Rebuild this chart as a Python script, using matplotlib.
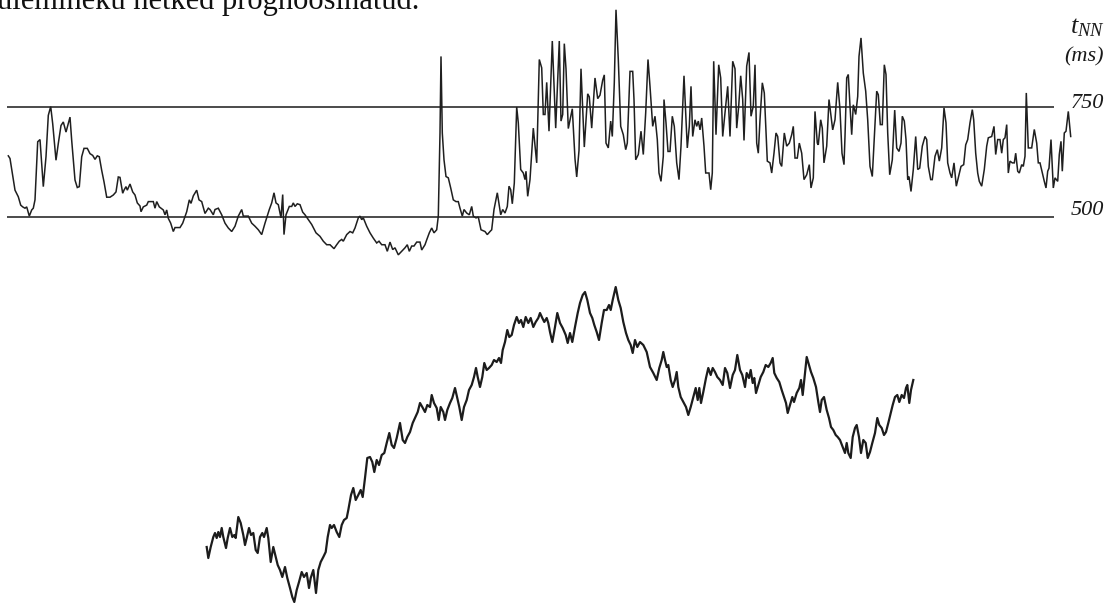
import numpy as np
import matplotlib
matplotlib.use("Agg")
import matplotlib.pyplot as plt

plt.rcParams['font.family'] = ['Liberation Serif', 'DejaVu Serif']
plt.rcParams['mathtext.fontset'] = 'custom'
plt.rcParams['mathtext.it'] = 'Liberation Serif:italic'
plt.rcParams['mathtext.rm'] = 'Liberation Serif'

# RR tachogram: beat time (arbitrary units) and NN interval (ms)
rr_t = [8.3, 10, 15, 18.3, 20.7, 22.7, 25, 26.7, 29.3, 31.7, 33.3, 35, 37.7, 40, 43.3, 46, 48.3, 50.7, 52.7, 56,
        58.3, 61, 63.3, 66, 70, 71.7, 75, 77.3, 79.3, 81.7, 84, 87.3, 90, 92.7, 95, 97.3, 99.3, 101.7, 104, 106.7,
        110, 113.3, 116, 118.3, 120, 122.7, 124, 126, 127.3, 130, 132.7, 135, 137.3, 140, 141, 143.3, 146.7, 148.3, 150.7, 153.3,
        155, 156.7, 159.3, 163.3, 165, 166.7, 168.3, 170.7, 173.3, 175, 180, 182.7, 185, 186.7, 189.3, 191, 193.3, 196.7, 199, 201.7,
        205, 208.3,
        210, 213.3, 215, 218.3, 221.7, 225, 228.3, 231.7, 235, 238.3, 241.7, 243.3, 248.3, 251.7, 255, 258.3, 261.7, 265, 269.3, 271.7,
        274, 276, 278.3, 281, 282.7, 284, 286, 289.3, 291.7, 293.3, 295, 297.3, 300, 302.7, 305, 308.3, 311.7, 316, 320, 323.3,
        326.7, 330, 334, 336.7, 339.3, 341.7, 343.3, 346.7, 350, 352.7, 355, 358.3, 360, 361.7, 363.3, 366.7, 370, 373.3, 376.7, 379,
        381.7, 385, 387.3, 390, 392.7, 395, 398.3, 401.7, 405, 407.3, 409.3, 411.7, 414, 416.7, 420, 421.7, 425,
        426.7, 429.3, 431.7, 434, 436.7, 438.3, 440, 441, 442.3, 444, 446, 448.3, 450.7, 453.3, 456, 458.3, 460, 462.3, 464, 466.7,
        469.3, 471.7, 473.3, 476, 478.3, 481, 485, 487.3, 490, 491.7, 494, 497.3, 500.7, 502.7, 505, 507.3, 509, 510.7, 512.3, 514.3,
        516.7, 518.3, 520.7, 523.3, 525, 526, 527.7, 530, 533.3, 536.7, 539.3, 541.7, 543.3, 545, 546.7, 549, 552.3, 555.7, 559.3, 561,
        562.7, 564.3, 566, 568.3, 572.3, 575, 576.7, 579, 581, 584.3, 587.7, 589.3, 591.7, 595, 597.7, 600, 602.7, 604.3, 606, 608.3,
        610.7, 612.3, 614.3, 616, 618.3, 620.7, 623.3, 625.7, 627.3, 630,
        632.7, 634, 635.7, 638.3, 641, 643.3, 645.7, 648, 650, 652.7, 655, 657.3, 659, 661, 663.3, 664, 666, 668, 670, 672.3,
        674.3, 676.7, 679, 681, 684, 687.3, 689.3, 691, 692.7, 695, 696.7, 698.3, 700, 701.7, 704, 705.7, 709, 710.7, 712.3, 713.7,
        716, 718.7, 720.7, 722.7, 725, 727.7, 730, 732.7, 735, 736.7, 738.7, 740.7, 742.7, 744, 746.7, 749, 751, 753.3, 755, 756.7,
        758.3, 760, 762.3, 764.3, 767.3, 770, 771.7, 774, 776, 777.7, 780, 781.7, 784.3, 786.7, 789.3, 791.7, 793.3, 795, 797.3, 799.3,
        801.7, 804, 806.7, 809.3, 811, 813.3, 815, 817.3, 818.3, 820.7, 822.3, 824, 826.7, 829, 831, 832.7, 835, 837.7, 840, 842, 844,
        845, 846.7, 848.3, 850, 851.7, 853.3, 855.7, 857.7, 859, 861, 863.3, 865.7, 867.7, 870, 872.3, 874.3, 876.7, 878.3, 880.3, 882.3,
        884.3, 886, 887.7, 889.7, 892.3, 894.7, 896.7, 899, 901, 902.3, 904.3, 906, 907.7, 909, 911, 913.3, 915.7, 917.7, 919.7, 922.3,
        925, 926.7, 928.3, 930.7, 932.3, 935, 937.3, 939.3, 941.7, 944, 946, 947.7, 950, 951.7, 954, 956.3, 958.3, 961, 963.7, 965.7,
        967.7, 970, 972.3, 973.7, 975.7, 977.7, 979.3, 981.7, 984.3, 986.7, 988.3, 991.7, 994, 995.7, 997.7, 1000, 1001.7, 1003.3, 1005, 1006.7,
        1008.3, 1010, 1012.3, 1014.3, 1015.7, 1017.7, 1019.3, 1021.7, 1023.3, 1025, 1026.3, 1028.3, 1031.7, 1034.3, 1036.7, 1038.3, 1040, 1042.3, 1044.3, 1046,
        1047.7, 1049, 1051, 1053.3, 1055, 1057.7, 1059.3, 1061, 1062.3, 1064.3, 1066, 1068.3, 1070.7]
rr_ms = [639, 633, 561, 546, 527, 523, 520, 523, 502, 516, 520, 539, 671, 676, 569, 637, 731, 751, 712, 629,
         667, 708, 716, 693, 727, 674, 584, 567, 569, 637, 656, 656, 644, 640, 631, 639, 637, 606, 580, 545,
         545, 550, 557, 591, 590, 554, 561, 569, 561, 575, 557, 550, 532, 525, 512, 523, 527, 535, 535, 535,
         520, 535, 523, 516, 505, 516, 497, 486, 467, 476, 476, 486, 501, 512, 539, 531, 548, 561, 539, 535,
         508, 520,
         517, 505, 517, 520, 505, 486, 475, 467, 479, 502, 517, 502, 502, 486, 479, 471, 460, 486, 517, 532,
         555, 532, 528, 498, 551, 460, 505, 524, 524, 532, 524, 530, 528, 511, 505, 494, 483, 464, 456, 445,
         437, 437, 428, 437, 445, 449, 445, 460, 467, 464, 475, 498, 502, 494, 498, 479, 464, 452, 441, 445,
         437, 437, 422, 443, 426, 430, 414, 422, 430, 437, 422, 434, 434, 443, 443, 425, 437,
         448, 464, 475, 464, 471, 502, 691, 865, 691, 630, 592, 589, 566, 539, 535, 535, 520, 502, 517, 509,
         505, 524, 502, 498, 500, 471, 467, 460, 467, 471, 517, 555, 505, 517, 509, 524, 570, 562, 530, 577,
         750, 714, 608, 600, 585, 604, 547, 585, 702, 623, 858, 839, 733, 733, 806, 695, 900, 702, 900, 718,
         733, 894, 837, 701, 746, 632, 591, 651, 837, 659, 780, 773, 702, 816, 769, 777, 811, 823, 668, 657,
         718, 683, 805, 971, 858, 706, 687, 653, 668, 831,
         831, 767, 630, 642, 695, 642, 737, 858, 797, 706, 729, 676, 600, 581, 638, 767, 714, 649, 649, 729,
         706, 623, 585, 661, 821, 657, 706, 797, 683, 721, 706, 718, 698, 725, 661, 600, 600, 562, 600, 854,
         687, 846, 816, 683, 737, 797, 683, 854, 837, 702, 752, 821, 767, 674, 843, 874, 729, 752, 846, 668,
         645, 721, 805, 782, 627, 623, 600, 645, 691, 683, 623, 615, 691, 661, 668, 687, 706, 634, 634, 668,
         645, 585, 596, 619, 566, 589, 740, 668, 664, 721, 702, 623, 661, 767, 729, 698, 721, 806, 744, 645, 619,
         683, 816, 824, 752, 687, 755, 733, 774, 865, 907, 827, 786, 721, 615, 592, 680, 786, 778, 710, 710,
         846, 824, 691, 596, 630, 743, 657, 649, 668, 729, 718, 676, 585, 592, 558, 608, 683, 608, 611, 661,
         683, 676, 615, 585, 585, 638, 653, 627, 657, 748, 714, 623, 600, 589, 623, 570, 589, 615, 619, 664,
         676, 714, 744, 721, 645, 600, 581, 570, 608, 661, 680, 683, 706, 642, 676, 676, 645, 676, 680, 710,
         600, 627, 623, 623, 645, 604, 600, 619, 615, 638, 782, 657, 657, 699, 668, 623, 623, 600, 581, 566,
         604, 611, 676, 566, 589, 581, 642, 672, 604, 691, 695, 740, 683]

# cumulative (integrated) series drawn underneath
prof_t = [206.7, 208.3, 210.7, 213.3, 215, 216.7, 218.3, 220, 221.7, 223.3, 226, 227.7, 230, 232.3, 234.3, 235.7, 238.3, 240.7, 243.3, 245,
          246.7, 249, 251, 253.3, 255.7, 257.7, 260, 262.3, 264, 266.7, 268.3, 270.7, 273.3, 275.7, 277.7, 280, 282.3, 285, 287.3, 290,
          292.3, 294.3, 296.7, 299, 301.7, 304, 306.7, 309, 310.7, 313.3, 316, 318.3, 320.7, 323.3, 325.7, 327.7, 330, 331.7, 334, 336.7,
          339.3, 341.7, 344, 346.7, 348.3, 351, 353.3, 355.7, 358.3, 360.7, 362.7, 365, 367.3, 370, 372.3, 374.3, 376.7, 379, 381.7, 384.3,
          386.7, 389.3, 391.7, 394, 396.7, 400, 402.7, 405, 407.3, 410, 412.7, 415, 417.7, 420, 422.3, 425, 427.3, 430, 431.7, 434,
          436.7, 438.7, 440.7, 443.3, 445, 447.3, 450, 452.3, 455, 457.3, 459.3, 461.7, 464, 466.7, 469, 471.7, 474, 476, 477.7, 480,
          482.3, 484.3, 486.7, 489, 491.7, 494, 496.7, 499, 501, 502.7, 505, 507.3, 509.3, 511.7, 514, 516.7, 519, 521, 523.3, 525.7,
          528.3, 530.7, 533.3, 535.7, 538.3, 540, 542.3, 544.3, 546.7, 548.3, 550, 552.3, 555, 557.3, 560, 562.7, 565.7, 567.7, 570, 572.3,
          575, 577.7, 580, 582.7, 585, 587.3, 590, 592.3, 594.3, 596.7, 599, 601.7, 604, 606.7, 609, 610.7, 612.7, 615.7, 618.3, 620.7,
          623.3, 626, 628.3, 630.7, 632.7, 635, 637.3, 640, 643.3, 646.7, 650, 653.3, 656.7, 659.3, 661.7, 663.3, 665, 666.7, 668.3, 670.7,
          672.7, 675, 676.7, 678.3, 680.7, 683.3, 686, 688.3, 690.7, 693.3, 695.7, 697.7, 699.3, 701, 703.3, 706, 708.3, 710.7, 712.7, 715,
          717.3, 720, 722.7, 725, 727.3, 730, 732.7, 735, 737.3, 740, 742.3, 745, 746.7, 749, 750.7, 752.7, 754.3, 756, 758.3, 760.7,
          763.3, 765.7, 768.3, 770.7, 772.7, 774.3, 776.7, 779.3, 781.7, 784, 786, 787.7, 790, 792.3, 794, 796.7, 799.3, 801, 802.7, 805,
          806.7, 809, 811, 813.3, 816, 818.3, 820, 821.7, 824, 826.7, 829, 831, 833.3, 835.7, 837.7, 840, 842.7, 845, 846.7, 848.3,
          850.7, 852.7, 855, 856.7, 859, 861, 863.3, 865.7, 867.7, 870, 872.3, 875, 877.3, 879.3, 881.7, 884, 886, 888.3, 890.7, 892.7,
          895, 897.3, 899.3, 901.7, 904, 906, 907.3, 909.3, 911, 913.3]
prof_val = [53, 42, 53, 63, 67, 62, 68, 63, 72, 63, 52, 62, 72, 63, 65, 62, 83, 77, 65, 55,
            62, 72, 65, 67, 50, 47, 63, 67, 63, 72, 62, 38, 53, 43, 35, 30, 23, 33, 22, 12,
            3, -2, 10, 18, 28, 23, 27, 12, 22, 30, 7, 30, 38, 43, 48, 63, 75, 72, 75, 68,
            63, 75, 80, 82, 90, 105, 112, 100, 105, 110, 103, 122, 142, 143, 138, 128, 140, 135, 145, 147,
            157, 167, 155, 152, 162, 177, 160, 157, 163, 168, 177, 182, 188, 197, 193, 188, 195, 193, 205, 197,
            192, 180, 193, 188, 180, 190, 197, 202, 212, 202, 193, 180, 193, 200, 210, 215, 223, 232, 223, 213,
            223, 237, 230, 232, 235, 240, 238, 242, 237, 250, 258, 270, 263, 265, 275, 283, 277, 280, 273, 283,
            277, 282, 273, 278, 282, 287, 282, 278, 282, 277, 268, 258, 273, 287, 277, 272, 265, 257, 267, 258,
            273, 287, 297, 305, 308, 300, 287, 282, 275, 268, 260, 277, 290, 290, 295, 290, 300, 313, 300, 292,
            278, 267, 260, 255, 247, 260, 253, 258, 255, 248, 233, 227, 220, 232, 240, 248, 240, 233, 235, 220,
            213, 220, 228, 213, 203, 198, 193, 185, 193, 203, 212, 200, 212, 197, 208, 222, 232, 225, 232, 228,
            223, 220, 215, 232, 227, 212, 225, 230, 245, 230, 225, 213, 227, 222, 230, 217, 222, 207, 215, 223,
            228, 235, 233, 237, 242, 227, 222, 218, 210, 203, 197, 187, 195, 203, 198, 207, 212, 220, 205, 227,
            243, 235, 228, 222, 213, 198, 188, 200, 203, 190, 182, 173, 170, 165, 163, 160, 153, 147, 157, 147,
            142, 163, 172, 175, 163, 147, 160, 157, 142, 148, 157, 167, 182, 175, 172, 165, 168, 177, 187, 195,
            203, 205, 198, 205, 202, 212, 215, 197, 210, 220]

assert len(rr_t) == len(rr_ms)
assert len(prof_t) == len(prof_val)

ref_levels = [500, 750]

fig = plt.figure(figsize=(11.1, 6.03), dpi=100)

# upper panel: NN intervals with the two reference levels
ax = fig.add_axes([0, 0, 1, 1])
ax.set_xlim(0, 1110)
ax.set_ylim(-377.3, 993.2)
ax.axis('off')
ax.hlines(ref_levels, 7, 1054, color='#1a1a1a', lw=1.1)
ax.plot(rr_t, rr_ms, color='#1f1f1f', lw=1.1, solid_joinstyle='miter')

lab = dict(ha='right', fontsize=16, style='italic', color='#1a1a1a')
ax.text(1104, 757, '750', va='center', **lab)
ax.text(1104, 514, '500', va='center', **lab)
ax.text(1104, 864, '(ms)', va='center', **lab)
ax.text(1105, 918, r'$t_{NN}$', ha='right', va='baseline', fontsize=19, color='#1a1a1a')

# lower panel: integrated profile
ax2 = fig.add_axes([0, 0, 1, 1])
ax2.set_xlim(0, 1110)
ax2.set_ylim(-3, 600)
ax2.axis('off')
ax2.patch.set_alpha(0)
ax2.plot(prof_t, prof_val, color='#1c1c1c', lw=1.6)

# last line of the caption text above, partly off the top edge
fig.text(-0.003, 1 - 9.5 / 603, 'ülemineku hetked prognoosinatud.', va='baseline',
         fontsize=22, color='#111111')

fig.savefig('out.png', dpi=100)
